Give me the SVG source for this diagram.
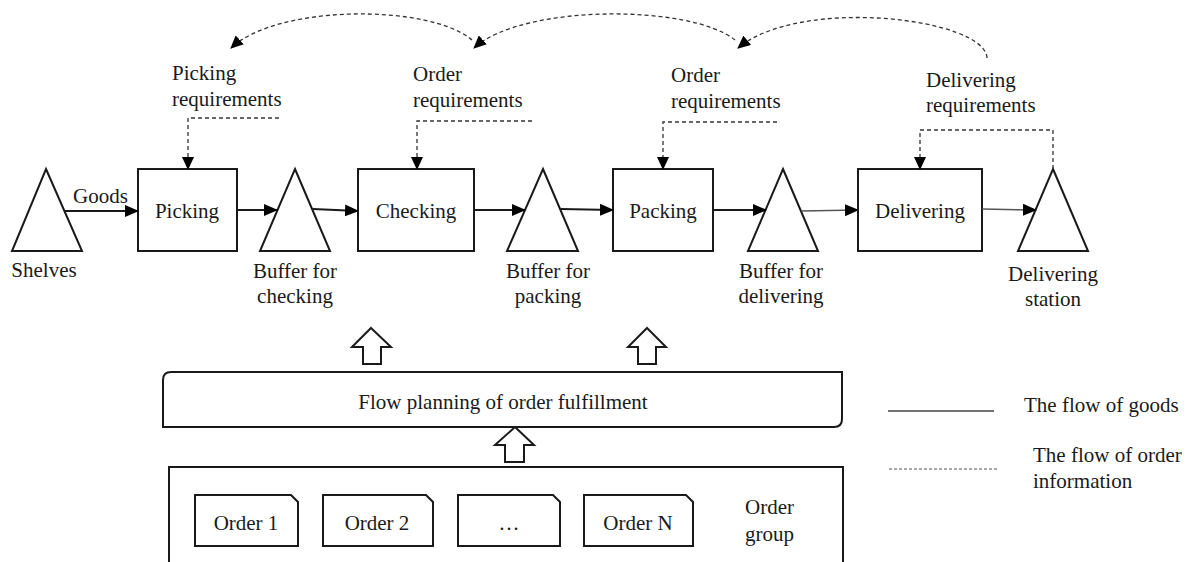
<svg xmlns="http://www.w3.org/2000/svg" width="1193" height="562" viewBox="0 0 1193 562">
<style>
text{font-family:'Liberation Serif','DejaVu Serif',serif;font-size:21px;fill:#1a1a1a}
.c{text-anchor:middle}
.shape{fill:#fff;stroke:#1a1a1a;stroke-width:2}
.flow{fill:none;stroke:#1a1a1a;stroke-width:2}
.flowthin{fill:none;stroke:#555;stroke-width:1.5}
.info{fill:none;stroke:#333;stroke-width:1.3;stroke-dasharray:4 3}
</style>
<defs>
<marker id="ah" markerUnits="userSpaceOnUse" markerWidth="14" markerHeight="12" viewBox="0 0 14 12" refX="13" refY="6" orient="auto">
<path d="M0 0 L14 6 L0 12 Z" fill="#000"/>
</marker>
<marker id="ahs" markerUnits="userSpaceOnUse" markerWidth="13" markerHeight="12" viewBox="0 0 13 12" refX="12" refY="6" orient="auto">
<path d="M0 0 L13 6 L0 12 Z" fill="#000"/>
</marker>
</defs>
<g font-family="Liberation Serif, DejaVu Serif, serif">

<g id="shelves"><polygon class="shape" points="46,169 82,251 12,251"/><text class="c" x="44" y="277">Shelves</text></g>
<g id="picking"><rect class="shape" x="138" y="169" width="99" height="82"/><text class="c" x="187" y="218">Picking</text></g>
<g id="buffer-checking"><polygon class="shape" points="295,169 330,251 260,251"/><text class="c" x="295" y="278">Buffer for</text><text class="c" x="295" y="303">checking</text></g>
<g id="checking"><rect class="shape" x="358" y="169" width="116" height="82"/><text class="c" x="416" y="218">Checking</text></g>
<g id="buffer-packing"><polygon class="shape" points="543,169 578,251 507,251"/><text class="c" x="548" y="278">Buffer for</text><text class="c" x="548" y="303">packing</text></g>
<g id="packing"><rect class="shape" x="613" y="169" width="100" height="82"/><text class="c" x="663" y="218">Packing</text></g>
<g id="buffer-delivering"><polygon class="shape" points="783,169 818,251 748,251"/><text class="c" x="781" y="278">Buffer for</text><text class="c" x="781" y="303">delivering</text></g>
<g id="delivering"><rect class="shape" x="858" y="169" width="124" height="82"/><text class="c" x="920" y="218">Delivering</text></g>
<g id="delivering-station"><polygon class="shape" points="1053,169 1088,251 1018,251"/><text class="c" x="1053" y="281">Delivering</text><text class="c" x="1053" y="306">station</text></g>

<g id="req-picking"><text x="172" y="80">Picking</text><text x="172" y="106">requirements</text></g>
<g id="req-checking"><text x="413" y="81">Order</text><text x="413" y="107">requirements</text></g>
<g id="req-packing"><text x="671" y="82">Order</text><text x="671" y="108">requirements</text></g>
<g id="req-delivering"><text x="926" y="87">Delivering</text><text x="926" y="112">requirements</text></g>

<g id="goods-label"><text x="73" y="203">Goods</text></g>

<g id="connectors">
<line class="flow" x1="65" y1="211" x2="138" y2="211" marker-end="url(#ah)"/>
<line class="flow" x1="237" y1="210" x2="277" y2="210" marker-end="url(#ah)"/>
<line class="flow" x1="313" y1="209" x2="358" y2="211" marker-end="url(#ah)"/>
<line class="flow" x1="474" y1="210" x2="525" y2="210" marker-end="url(#ah)"/>
<line class="flow" x1="561" y1="209" x2="613" y2="210" marker-end="url(#ah)"/>
<line class="flow" x1="713" y1="210" x2="766" y2="210" marker-end="url(#ah)"/>
<line class="flowthin" x1="801" y1="211" x2="858" y2="210" marker-end="url(#ah)"/>
<line class="flowthin" x1="982" y1="209" x2="1036" y2="210" marker-end="url(#ah)"/>

<path class="info" d="M279 118 H188 V169" marker-end="url(#ahs)"/>
<path class="info" d="M532 121 H417 V169" marker-end="url(#ahs)"/>
<path class="info" d="M777 122 H663 V169" marker-end="url(#ahs)"/>
<path class="info" d="M1053 169 V130 H920 V169" marker-end="url(#ahs)"/>

<path class="info" d="M472 40 C430 4 278 4 231 48" marker-end="url(#ahs)"/>
<path class="info" d="M735 40 C690 4 522 4 474 48" marker-end="url(#ahs)"/>
<path class="info" d="M987 58 C985 18 800 -4 738 48" marker-end="url(#ahs)"/>

<polygon class="shape" points="371,328 391,347 381,347 381,364 363,364 363,347 352,347"/>
<polygon class="shape" points="647,328 666,347 656,347 656,364 638,364 638,347 628,347"/>
<polygon class="shape" points="515,427 534,445 524,445 524,462 505,462 505,445 495,445"/>
</g>

<g id="flow-planning"><path class="shape" d="M163 380 Q163 372 171 372 H842 V419 Q842 427 834 427 H163 Z"/><text class="c" x="503" y="409">Flow planning of order fulfillment</text></g>

<g id="order-group">
<path class="shape" d="M169 570 V467 H843 V570"/>
<text x="745" y="514">Order</text><text x="745" y="541">group</text>
</g>
<g id="order-1"><path class="shape" d="M195 495 H291 L298 502 V546 H195 Z"/><text class="c" x="246" y="530">Order 1</text></g>
<g id="order-2"><path class="shape" d="M323 495 H426 L433 502 V546 H323 Z"/><text class="c" x="377" y="530">Order 2</text></g>
<g id="order-dots"><path class="shape" d="M458 495 H553 L560 502 V546 H458 Z"/><text class="c" x="509" y="530">…</text></g>
<g id="order-n"><path class="shape" d="M584 495 H686 L693 502 V546 H584 Z"/><text class="c" x="638" y="530">Order N</text></g>

<g id="legend">
<line x1="888" y1="411" x2="994" y2="411" stroke="#444" stroke-width="1.3"/>
<text x="1024" y="412">The flow of goods</text>
<line x1="889" y1="469" x2="998" y2="469" stroke="#555" stroke-width="1.2" stroke-dasharray="3 2"/>
<text x="1033" y="462">The flow of order</text>
<text x="1033" y="488">information</text>
</g>
</g>
</svg>
